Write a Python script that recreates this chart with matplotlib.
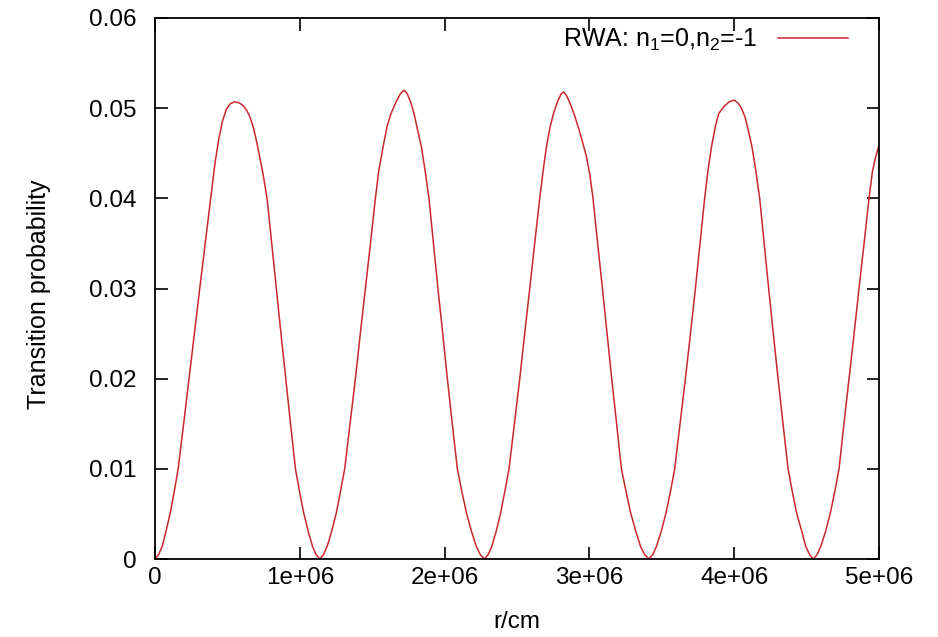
"""Transition probability vs r (RWA, n1=0, n2=-1), gnuplot-style line plot."""
import matplotlib
matplotlib.use("Agg")
import matplotlib.pyplot as plt
from matplotlib.ticker import FixedLocator, FixedFormatter

plt.rcParams["font.family"] = ["Liberation Sans", "DejaVu Sans"]
plt.rcParams["mathtext.fontset"] = "custom"
plt.rcParams["mathtext.rm"] = "Liberation Sans"
plt.rcParams["mathtext.it"] = "Liberation Sans"

_RED = "#c8282d"

# r in units of 1e6 cm (one block per hump)
r_e6 = [
    # hump 1
    0.000, 0.025, 0.050, 0.075, 0.105, 0.133, 0.160, 0.198, 0.235, 0.272,
    0.309, 0.347, 0.385, 0.415, 0.440, 0.465, 0.493, 0.520, 0.550, 0.580,
    0.608, 0.632, 0.654, 0.675, 0.695, 0.718, 0.745, 0.774, 0.806, 0.838,
    0.870, 0.903, 0.936, 0.970, 0.998, 1.027, 1.059, 1.088, 1.112,
    # hump 2
    1.138, 1.164, 1.189, 1.219, 1.252, 1.281, 1.310, 1.347, 1.384, 1.418,
    1.453, 1.488, 1.522, 1.545, 1.575, 1.603, 1.630, 1.665, 1.695, 1.720,
    1.742, 1.765, 1.789, 1.812, 1.840, 1.866, 1.892, 1.923, 1.954, 1.987,
    2.019, 2.053, 2.088, 2.119, 2.151, 2.187, 2.219, 2.246,
    # hump 3
    2.275, 2.301, 2.326, 2.355, 2.387, 2.416, 2.445, 2.482, 2.519, 2.553,
    2.588, 2.622, 2.657, 2.680, 2.703, 2.730, 2.752, 2.782, 2.805, 2.823,
    2.842, 2.865, 2.893, 2.925, 2.955, 2.980, 3.003, 3.025, 3.057, 3.090,
    3.122, 3.154, 3.188, 3.221, 3.253, 3.285, 3.322, 3.353, 3.381,
    # hump 4
    3.410, 3.438, 3.463, 3.495, 3.529, 3.560, 3.589, 3.626, 3.663, 3.698,
    3.732, 3.764, 3.796, 3.818, 3.843, 3.870, 3.893, 3.930, 3.965, 3.999,
    4.025, 4.050, 4.075, 4.098, 4.123, 4.150, 4.176, 4.207, 4.238, 4.270,
    4.303, 4.337, 4.372, 4.401, 4.431, 4.468, 4.494, 4.520,
    # rising tail
    4.546, 4.573, 4.598, 4.630, 4.664, 4.695, 4.724, 4.758, 4.793, 4.828,
    4.862, 4.897, 4.931, 4.955, 4.977, 5.000,
]
prob = [
    # hump 1
    0.0000, 0.0005, 0.0014, 0.0030, 0.0051, 0.0075, 0.0100, 0.0150, 0.0200, 0.0250,
    0.0300, 0.0350, 0.0400, 0.0440, 0.0465, 0.0485, 0.0499, 0.0505, 0.0507, 0.0506,
    0.0503, 0.0498, 0.0491, 0.0481, 0.0468, 0.0450, 0.0428, 0.0400, 0.0350, 0.0300,
    0.0250, 0.0200, 0.0150, 0.0100, 0.0075, 0.0051, 0.0030, 0.0014, 0.0005,
    # hump 2
    0.0000, 0.0005, 0.0014, 0.0030, 0.0051, 0.0075, 0.0100, 0.0150, 0.0200, 0.0250,
    0.0300, 0.0350, 0.0400, 0.0430, 0.0457, 0.0480, 0.0494, 0.0507, 0.0516, 0.0520,
    0.0516, 0.0507, 0.0494, 0.0477, 0.0457, 0.0430, 0.0400, 0.0350, 0.0300, 0.0250,
    0.0200, 0.0150, 0.0100, 0.0075, 0.0051, 0.0030, 0.0014, 0.0005,
    # hump 3
    0.0000, 0.0005, 0.0014, 0.0030, 0.0051, 0.0075, 0.0100, 0.0150, 0.0200, 0.0250,
    0.0300, 0.0350, 0.0400, 0.0430, 0.0457, 0.0480, 0.0494, 0.0508, 0.0516, 0.0518,
    0.0514, 0.0506, 0.0494, 0.0478, 0.0461, 0.0446, 0.0426, 0.0400, 0.0350, 0.0300,
    0.0250, 0.0200, 0.0150, 0.0100, 0.0075, 0.0051, 0.0030, 0.0014, 0.0005,
    # hump 4
    0.0000, 0.0005, 0.0014, 0.0030, 0.0051, 0.0075, 0.0100, 0.0150, 0.0200, 0.0250,
    0.0300, 0.0350, 0.0400, 0.0430, 0.0457, 0.0480, 0.0494, 0.0502, 0.0507, 0.0509,
    0.0506, 0.0500, 0.0490, 0.0475, 0.0457, 0.0430, 0.0400, 0.0350, 0.0300, 0.0250,
    0.0200, 0.0150, 0.0100, 0.0075, 0.0051, 0.0030, 0.0014, 0.0005,
    # rising tail
    0.0000, 0.0005, 0.0014, 0.0030, 0.0051, 0.0075, 0.0100, 0.0150, 0.0200, 0.0250,
    0.0300, 0.0350, 0.0400, 0.0430, 0.0446, 0.0459,
]

x_ticks = [0, 1e6, 2e6, 3e6, 4e6, 5e6]
x_labels = ["0", "1e+06", "2e+06", "3e+06", "4e+06", "5e+06"]
y_ticks = [0, 0.01, 0.02, 0.03, 0.04, 0.05, 0.06]
y_labels = ["0", "0.01", "0.02", "0.03", "0.04", "0.05", "0.06"]

FS = 17.5

fig = plt.figure(figsize=(9.38, 6.37), dpi=100)
ax = fig.add_axes([155 / 938, 78 / 637, 724 / 938, 541 / 637])

ax.plot([v * 1e6 for v in r_e6], prob, color=_RED, lw=1.1,
        label=r"RWA: n$_1$=0,n$_2$=-1")

ax.set_xlim(0, 5e6)
ax.set_ylim(0, 0.06)
ax.xaxis.set_major_locator(FixedLocator(x_ticks))
ax.xaxis.set_major_formatter(FixedFormatter(x_labels))
ax.yaxis.set_major_locator(FixedLocator(y_ticks))
ax.yaxis.set_major_formatter(FixedFormatter(y_labels))
ax.tick_params(direction="in", length=9, width=1.2, top=True, right=True,
               labelsize=FS, colors="black")
ax.tick_params(axis="x", pad=6)
ax.tick_params(axis="y", pad=13)
for s in ax.spines.values():
    s.set_linewidth(1.3)

ax.set_xlabel("r/cm", fontsize=FS)
ax.xaxis.set_label_coords(0.5, -0.097)
ax.set_ylabel("Transition probability", fontsize=18)
ax.yaxis.set_label_coords(-0.144, 0.49)

ax.legend(loc="upper right", bbox_to_anchor=(0.957, 0.984), frameon=False,
          markerfirst=False, fontsize=18, handlelength=2.8, handletextpad=0.8,
          borderpad=0, borderaxespad=0)

fig.savefig("out.png", dpi=100, facecolor="white")
